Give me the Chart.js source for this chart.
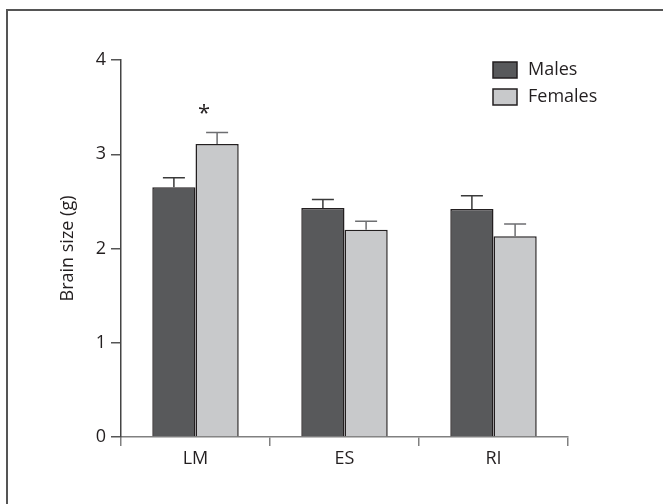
<!DOCTYPE html>
<html><head><meta charset="utf-8">
<script src="https://cdn.jsdelivr.net/npm/chart.js@4/dist/chart.umd.min.js"></script>
<style>html,body{margin:0;padding:0;background:#fff}#wrap{width:664px;height:504px;position:relative}</style>
</head><body><div id="wrap"><canvas id="c" width="664" height="504"></canvas></div>
<script>
const categories = ["LM", "ES", "RI"];
const malesValues = [2.65, 2.43, 2.42];
const malesErrors = [0.10, 0.09, 0.14];
const femalesValues = [3.11, 2.20, 2.13];
const femalesErrors = [0.12, 0.09, 0.13];
const yTicks = [0, 1, 2, 3, 4];
const significance = ["*", "", ""];

const FONT = "'Open Sans', 'DejaVu Sans', sans-serif";
const TXT = "#231f20";

const framePlugin = {
  id: 'frame',
  beforeDraw(chart) {
    const ctx = chart.ctx;
    ctx.save();
    ctx.strokeStyle = '#555';
    ctx.lineWidth = 2;
    ctx.beginPath();
    ctx.moveTo(7, 520); ctx.lineTo(7, 10); ctx.lineTo(663, 10);
    ctx.stroke();
    ctx.restore();
  }
};

const errPlugin = {
  id: 'errbars',
  afterDatasetsDraw(chart) {
    const ctx = chart.ctx;
    const y = chart.scales.y;
    ctx.save();
    chart.data.datasets.forEach((ds, di) => {
      const meta = chart.getDatasetMeta(di);
      meta.data.forEach((bar, i) => {
        const top = y.getPixelForValue(ds.data[i]);
        const et = y.getPixelForValue(ds.data[i] + ds.errors[i]);
        ctx.strokeStyle = ds.errColor;
        ctx.lineWidth = 1.5;
        ctx.beginPath();
        ctx.moveTo(bar.x, top); ctx.lineTo(bar.x, et);
        ctx.moveTo(bar.x - 11, et); ctx.lineTo(bar.x + 11, et);
        ctx.stroke();
      });
    });
    const fem = chart.getDatasetMeta(1);
    const femDs = chart.data.datasets[1];
    ctx.fillStyle = TXT;
    ctx.font = "22px " + FONT;
    ctx.textAlign = 'center';
    ctx.textBaseline = 'middle';
    significance.forEach((s, i) => {
      if (!s) return;
      const bar = fem.data[i];
      const et = y.getPixelForValue(femDs.data[i] + femDs.errors[i]);
      ctx.fillText(s, bar.x - 13, et - 19);
    });
    ctx.font = "18px " + FONT;
    ctx.textAlign = 'left';
    chart.data.datasets.forEach((ds, di) => {
      const ly = 62 + di * 27;
      ctx.fillStyle = ds.backgroundColor;
      ctx.fillRect(493, ly, 24, 16);
      ctx.strokeStyle = TXT;
      ctx.lineWidth = 1.5;
      ctx.strokeRect(493, ly, 24, 16);
      ctx.fillStyle = TXT;
      ctx.fillText(ds.label, 528, ly + 8);
    });
    ctx.restore();
  }
};

new Chart(document.getElementById('c'), {
  type: 'bar',
  data: {
    labels: categories,
    datasets: [
      { label: 'Males', data: malesValues, errors: malesErrors, errColor: '#3a3a3a',
        backgroundColor: '#58595b', borderColor: TXT, borderWidth: 1.5,
        barPercentage: 1.0, categoryPercentage: 0.58 },
      { label: 'Females', data: femalesValues, errors: femalesErrors, errColor: '#6d6e71',
        backgroundColor: '#c8c9cb', borderColor: TXT, borderWidth: 1.5,
        barPercentage: 1.0, categoryPercentage: 0.58 }
    ]
  },
  options: {
    responsive: false,
    animation: false,
    layout: { padding: { left: 0, right: 96, top: 60, bottom: 0 } },
    plugins: { legend: { display: false }, tooltip: { enabled: false } },
    scales: {
      x: {
        afterFit(s) { s.height = 67; },
        grid: { offset: true, drawOnChartArea: false, drawTicks: true, tickLength: 9, color: '#808080', lineWidth: 1.5 },
        border: { display: true, color: '#808080', width: 1.5 },
        ticks: { color: TXT, font: { family: FONT, size: 18 }, padding: 2 }
      },
      y: {
        min: 0, max: 4,
        afterFit(s) { s.width = 121; },
        afterBuildTicks(s) { s.ticks = yTicks.map(v => ({ value: v })); },
        grid: { drawOnChartArea: false, drawTicks: true, tickLength: 10, color: '#555', lineWidth: 1.5 },
        border: { display: true, color: '#444', width: 1.5 },
        ticks: { color: TXT, font: { family: FONT, size: 18 }, padding: 5 },
        title: { display: true, text: 'Brain size (g)', color: TXT, font: { family: FONT, size: 18 }, padding: { top: 57, bottom: 0 } }
      }
    }
  },
  plugins: [framePlugin, errPlugin]
});
</script></body></html>
